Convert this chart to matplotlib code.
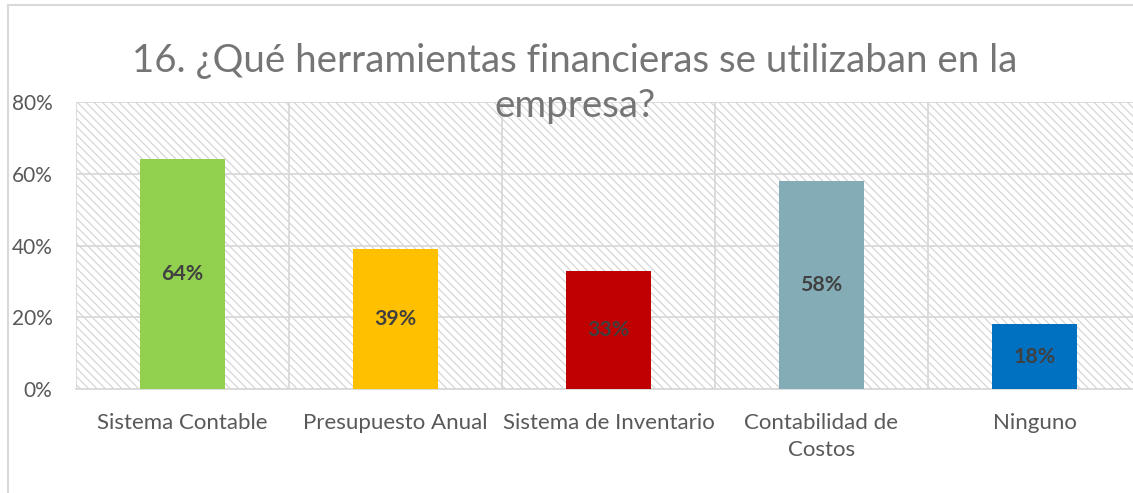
import matplotlib
matplotlib.use('Agg')
import matplotlib.pyplot as plt
from matplotlib.patches import Rectangle
from matplotlib.lines import Line2D
from matplotlib.ticker import PercentFormatter, FixedLocator

plt.rcParams['font.family'] = ['Lato', 'DejaVu Sans']
plt.rcParams['hatch.linewidth'] = 0.8

# datos
categorias = ['Sistema Contable', 'Presupuesto Anual', 'Sistema de Inventario',
              'Contabilidad de\nCostos', 'Ninguno']
valores = [0.64, 0.39, 0.33, 0.58, 0.18]
colores = ['#92D050', '#FFC000', '#C00000', '#84ACB6', '#0070C0']
etiquetas = ['64%', '39%', '33%', '58%', '18%']

W, H = 1133, 493
fig = plt.figure(figsize=(W / 100, H / 100), dpi=100)

# area del grafico (px)
x0, x1 = 76, 1133
y_top, y_bot = 102, 389
ax = fig.add_axes([x0 / W, 1 - y_bot / H, (x1 - x0) / W, (y_bot - y_top) / H])

ancho_cat = 213
ax.set_xlim(-0.5, -0.5 + (x1 - x0) / ancho_cat)
ax.set_ylim(0, 0.8)

# fondo rayado
ax.add_patch(Rectangle((0, 0), 1, 1, transform=ax.transAxes, facecolor='none',
                       edgecolor='#d2d2d2', hatch='\\\\\\\\', linewidth=0, zorder=0))

x = list(range(len(categorias)))
ax.bar(x, valores, width=0.40, color=colores, zorder=3)

for xi, v, t in zip(x, valores, etiquetas):
    ax.text(xi, v / 2, t, ha='center', va='center', fontsize=15.3,
            fontweight='bold', color='#404040', zorder=4)

# rejilla
ax.set_yticks([0, 0.2, 0.4, 0.6, 0.8])
ax.yaxis.set_major_formatter(PercentFormatter(1.0, decimals=0))
ax.xaxis.set_minor_locator(FixedLocator([-0.5, 0.5, 1.5, 2.5, 3.5, 4.5]))
ax.grid(axis='y', which='major', color='#d9d9d9', linewidth=1.3, zorder=1)
ax.grid(axis='x', which='minor', color='#d9d9d9', linewidth=1.3, zorder=1)
ax.set_axisbelow(True)
for s in ['top', 'right', 'left']:
    ax.spines[s].set_visible(False)
ax.spines['bottom'].set_color('#d9d9d9')
ax.spines['bottom'].set_linewidth(1.3)

ax.set_xticks(x)
ax.set_xticklabels(categorias, fontsize=16, color='#595959', linespacing=1.45)
ax.tick_params(axis='x', which='both', length=0, pad=17)
ax.tick_params(axis='y', length=0, pad=17, labelsize=15, labelcolor='#595959')
for lbl in ax.get_xticklabels():
    lbl.set_verticalalignment('top')

# titulo
fig.text(575 / W, 1 - 72 / H, '16. ¿Qué herramientas financieras se utilizaban en la',
         ha='center', va='baseline', fontsize=27.7, color='#757575')
fig.text(575 / W, 1 - 117 / H, 'empresa?',
         ha='center', va='baseline', fontsize=27.7, color='#757575', zorder=5)

# marco
fig.add_artist(Line2D([8 / W, 8 / W], [0, 1 - 5 / H], color='#d9d9d9', linewidth=1.5))
fig.add_artist(Line2D([8 / W, 1], [1 - 5 / H, 1 - 5 / H], color='#d9d9d9', linewidth=1.5))

fig.savefig('out.png', dpi=100)
